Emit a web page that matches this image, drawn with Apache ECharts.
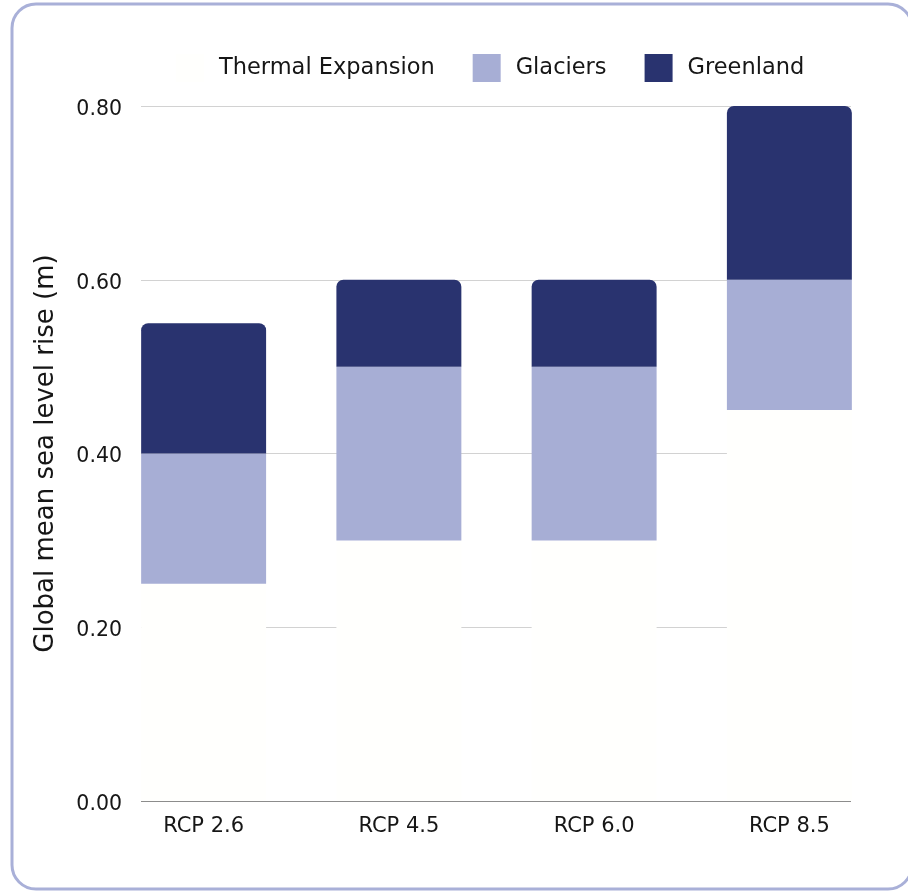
<!DOCTYPE html>
<html>
<head>
<meta charset="utf-8">
<script src="https://cdn.jsdelivr.net/npm/echarts@6/dist/echarts.min.js"></script>
<style>
  html, body { margin: 0; padding: 0; background: #ffffff; }
  #chart { width: 908px; height: 892px; }
</style>
</head>
<body>
<div id="chart"></div>
<script>
// Projected contributions to global mean sea level rise by scenario (m)
const categories = ['RCP 2.6', 'RCP 4.5', 'RCP 6.0', 'RCP 8.5'];
const thermalExpansion = [0.25, 0.30, 0.30, 0.45];
const glaciers = [0.15, 0.20, 0.20, 0.15];
const greenland = [0.15, 0.10, 0.10, 0.20];
const seriesNames = ['Thermal Expansion', 'Glaciers', 'Greenland'];

const FONT = '"DejaVu Sans", sans-serif';
const TEXT = '#161616';

const chart = echarts.init(document.getElementById('chart'), null, { renderer: 'canvas' });

const option = {
  backgroundColor: '#ffffff',
  animation: false,
  textStyle: { fontFamily: FONT },
  graphic: [{
    type: 'rect',
    z: -10,
    shape: { x: 12, y: 4, width: 900, height: 885, r: 24 },
    style: { fill: '#ffffff', stroke: '#a9b0d8', lineWidth: 3 }
  }],
  legend: {
    data: seriesNames,
    top: 49,
    left: 171,
    itemWidth: 28,
    itemHeight: 28,
    itemGap: 38,
    icon: 'rect',
    textStyle: { fontFamily: FONT, fontSize: 22.5, color: TEXT, padding: [0, 0, 0, 10] }
  },
  grid: [
    // bars
    { left: 106, width: 781, top: 106, height: 695 },
    // horizontal reference lines spanning the bar extent
    { left: 141, width: 710, top: 106, height: 695 }
  ],
  xAxis: [
    {
      type: 'category', gridIndex: 0, data: categories,
      axisLine: { show: false }, axisTick: { show: false },
      axisLabel: { fontFamily: FONT, fontSize: 21, color: TEXT, margin: 15 }
    },
    { type: 'value', gridIndex: 1, show: false }
  ],
  yAxis: [
    {
      type: 'value', gridIndex: 1, min: 0, max: 0.8, interval: 0.2,
      name: 'Global mean sea level rise (m)',
      nameLocation: 'middle', nameRotate: 90, nameGap: 82,
      nameTextStyle: { fontFamily: FONT, fontSize: 26, color: TEXT },
      axisLine: { show: false }, axisTick: { show: false },
      axisLabel: {
        margin: 19,
        formatter: v => '{t|' + v.toFixed(2) + '}',
        rich: { t: { fontFamily: FONT, fontSize: 20.5, color: TEXT, padding: [7, 0, 0, 0] } }
      },
      splitLine: { show: true, lineStyle: { width: 1,
        color: ['#8c8c8c', '#d2d2d2', '#d2d2d2', '#d2d2d2', '#d2d2d2'] } }
    },
    { type: 'value', gridIndex: 0, min: 0, max: 0.8, interval: 0.2, show: false }
  ],
  series: [
    {
      name: seriesNames[0], type: 'bar', stack: 'rise', xAxisIndex: 0, yAxisIndex: 1,
      barWidth: '64%', data: thermalExpansion,
      itemStyle: { color: '#fffffd' }
    },
    {
      name: seriesNames[1], type: 'bar', stack: 'rise', xAxisIndex: 0, yAxisIndex: 1,
      barWidth: '64%', data: glaciers,
      itemStyle: { color: '#a7aed5' }
    },
    {
      name: seriesNames[2], type: 'bar', stack: 'rise', xAxisIndex: 0, yAxisIndex: 1,
      barWidth: '64%', data: greenland,
      itemStyle: { color: '#29336f', borderRadius: [7, 7, 0, 0] }
    }
  ]
};

chart.setOption(option);
</script>
</body>
</html>
